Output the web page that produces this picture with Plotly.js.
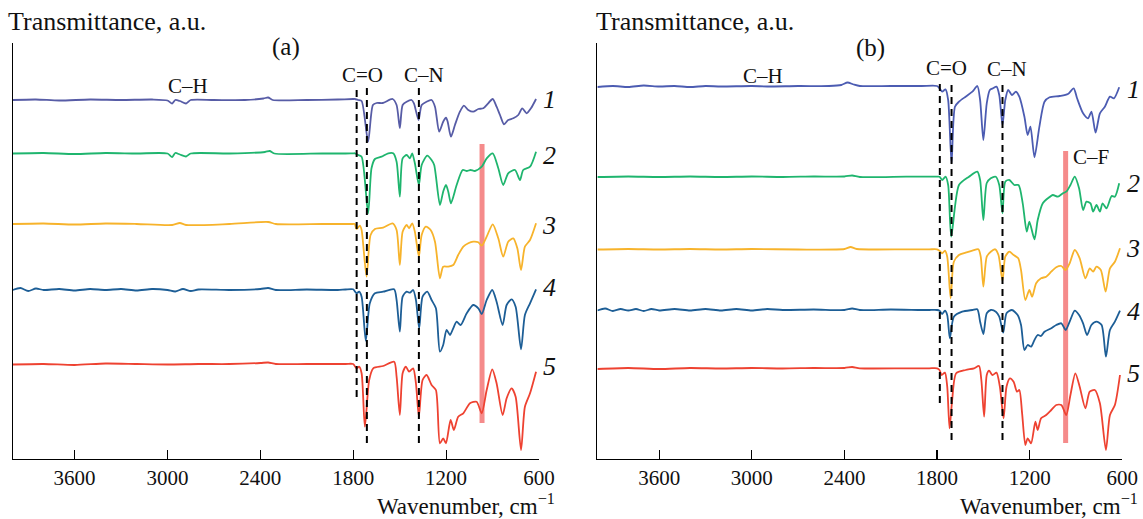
<!DOCTYPE html>
<html>
<head>
<meta charset="utf-8">
<script src="https://cdn.plot.ly/plotly-3.0.1.min.js"></script>
<style>html,body{margin:0;padding:0;background:#fff;}#chart{width:1143px;height:519px;}</style>
</head>
<body>
<div id="chart"></div>
<script>
// ---- Data: [wavenumber (cm-1), transmittance (a.u., offset)] ----
const spectrumA1 = [[4000,360],[3850,360.5],[3700,359.5],[3500,360.5],[3300,360],[3100,360.5],[3000,359.5],[2970,356.5],[2950,360],[2920,359],[2880,356.5],[2850,360],[2700,360],[2500,360],[2380,361.5],[2350,362.5],[2320,360],[2100,360],[1900,360.5],[1801,361],[1790,361],[1768,360],[1746,359],[1704,318.3],[1673,355],[1649,357],[1609,357],[1546,361],[1520,355],[1499,332],[1481,355],[1455,358.3],[1423,360],[1408,356.7],[1378,340],[1358,355],[1326,358.3],[1294,360],[1272,353.3],[1245,328.3],[1219,338.3],[1201,342.3],[1190,338.3],[1169,323.3],[1143,335],[1111,348.3],[1085,354.3],[1057,350],[1025,348.3],[992,351],[960,351.7],[928,356.7],[899,361],[874,353.3],[852,345],[826,335.7],[799,340],[766,341.7],[734,345],[708,351.7],[680,346.7],[652,351.7],[619,361]];
const spectrumA2 = [[4000,306.5],[3800,307],[3600,306],[3400,307],[3200,306.5],[3000,306.5],[2970,303],[2950,307],[2920,305.5],[2880,303.5],[2850,306.5],[2600,306.5],[2370,308],[2340,309],[2310,306.5],[2000,306.5],[1850,306.5],[1801,306.7],[1790,306.7],[1768,305],[1746,303.3],[1704,246.7],[1682,291.7],[1660,301],[1617,303.3],[1574,306.7],[1542,306.7],[1520,298.3],[1499,263.3],[1481,301.7],[1455,305],[1434,301.7],[1419,306.7],[1402,296.7],[1376,275],[1358,295],[1322,304.3],[1294,300],[1277,295],[1240,255],[1219,268.3],[1201,275],[1186,268.3],[1169,256.7],[1132,275],[1093,290],[1067,289],[1042,290],[1014,289],[970,293.3],[938,301.7],[899,306.7],[863,291.7],[831,275],[799,286.7],[755,290],[723,280],[702,290],[658,293.3],[619,308.3]];
const spectrumA3 = [[4000,236],[3800,236.5],[3600,235.5],[3400,236.5],[3200,236],[2970,235],[2920,237],[2880,235],[2600,236],[2350,238],[2300,236],[2000,236],[1850,236],[1801,236],[1790,236],[1779,231],[1757,234.3],[1746,230],[1714,183.3],[1688,225],[1660,231],[1607,232.3],[1546,236.7],[1520,230],[1499,195],[1481,228.3],[1455,235],[1439,231.7],[1419,236.7],[1402,228.3],[1376,203.3],[1358,225],[1331,233.3],[1300,230],[1272,218.3],[1240,181.7],[1219,193.3],[1186,193.3],[1154,195],[1122,205],[1089,213.3],[1057,216.7],[1025,218.3],[992,217.7],[970,214.3],[938,223.3],[899,235.7],[863,221.7],[831,203.3],[799,218.3],[766,221.7],[740,211.7],[716,190],[691,213.3],[658,220],[619,236.7]];
const spectrumA4 = [[4000,170],[3950,172],[3900,169],[3850,171.5],[3800,170],[3700,171],[3600,169.5],[3500,171],[3400,170],[3300,171],[3200,169.5],[3100,171],[3000,170],[2950,168.5],[2900,171],[2850,169],[2800,170.5],[2600,170],[2400,171],[2350,172],[2300,170],[2100,170.5],[1900,170],[1850,170.5],[1801,170.7],[1779,166.7],[1762,168.3],[1746,163.3],[1719,119.3],[1693,156.7],[1660,166.7],[1607,168.3],[1536,170.7],[1520,160],[1499,128.3],[1481,163.3],[1455,168.3],[1434,167.3],[1413,170],[1395,160],[1374,131.7],[1352,163.3],[1322,168.3],[1294,160],[1266,151.7],[1240,108.3],[1219,115],[1197,130],[1175,125],[1154,131.7],[1132,138.3],[1106,135],[1067,146.7],[1025,155],[992,151.7],[970,146],[938,160],[902,170],[874,158.3],[835,135],[809,155],[777,160.7],[751,153.3],[716,110.7],[691,145],[658,156.7],[619,170.7]];
const spectrumA5 = [[4000,95.5],[3800,96],[3600,95],[3400,96.5],[3200,96],[3000,95.5],[2800,96],[2600,96],[2400,97],[2350,97.5],[2300,96],[2100,96],[1850,96],[1801,96],[1779,91.7],[1762,93.3],[1746,86.7],[1725,33.3],[1697,80],[1671,91.7],[1607,94],[1536,98.3],[1520,83.3],[1499,45],[1481,86.7],[1460,93.3],[1439,88.3],[1413,91.7],[1395,76.7],[1376,43.3],[1352,80],[1326,85],[1294,75],[1266,70],[1240,16.7],[1219,21.7],[1201,16.7],[1171,40],[1150,30],[1122,43.3],[1089,46.7],[1046,56.7],[1003,58.3],[970,46.7],[938,70],[902,90.7],[874,76.7],[835,45],[809,61.7],[777,71.7],[751,63.3],[716,10],[691,53.3],[658,66.7],[619,88.3]];

const spectrumB1 = [[4000,373],[3900,374],[3800,373],[3700,374.5],[3600,373.5],[3500,374],[3400,373],[3300,374],[3200,373.5],[3000,374],[2900,373.5],[2700,374],[2500,374],[2420,375],[2380,377.5],[2340,375.5],[2300,374],[2100,374],[1900,374],[1800,374],[1784,371.7],[1767,368.3],[1745,370.7],[1728,360],[1706,296.7],[1684,353.3],[1658,358.3],[1615,363.3],[1571,368.3],[1539,374],[1521,360],[1500,320],[1478,356.7],[1458,370],[1437,371.7],[1415,373.3],[1397,365],[1376,335],[1358,360],[1339,370],[1315,365],[1289,368.3],[1267,363.3],[1234,343.3],[1213,325],[1195,333.3],[1169,302.7],[1137,333.3],[1104,358.3],[1071,362.7],[1006,364],[952,366],[915,371.7],[893,361.7],[854,346.7],[822,341.7],[800,348.3],[773,327.3],[745,346.7],[713,353.3],[680,363.3],[654,361.7],[620,372.7]];
const spectrumB2 = [[4000,283],[3800,283.5],[3600,283],[3400,283.5],[3200,283],[3000,283.5],[2800,283],[2600,283.5],[2400,283.5],[2350,284.5],[2300,283],[2000,283.3],[1850,283.3],[1800,283.3],[1784,283.3],[1767,280],[1745,283.3],[1728,275],[1708,223.3],[1658,275],[1593,283.3],[1539,288.3],[1521,280],[1500,240],[1478,277],[1452,281.7],[1419,283.3],[1397,275],[1376,246.7],[1358,278.3],[1332,280],[1300,275],[1272,275],[1245,256.7],[1219,228.3],[1202,238.3],[1169,220.7],[1148,240],[1115,256.7],[1082,261.7],[1050,265],[1017,263.3],[985,266.7],[963,268.3],[936,275],[908,283.3],[880,271.7],[854,250],[832,258.3],[806,256.7],[789,248.3],[767,255],[745,248.3],[728,256.7],[702,251.7],[669,264],[648,263.3],[620,276.7]];
const spectrumB3 = [[4000,210.5],[3800,211],[3600,210.5],[3400,211],[3200,210.5],[3000,211],[2700,210.5],[2400,211],[2360,213],[2320,211],[2000,210.7],[1850,210.7],[1800,210.7],[1784,209.3],[1767,206.7],[1749,209.3],[1734,203.3],[1712,161.7],[1691,198.3],[1658,205],[1615,207.3],[1571,209.3],[1532,210.7],[1517,203.3],[1500,173.3],[1478,203.3],[1452,208.3],[1423,210.7],[1402,205],[1376,179.3],[1358,203.3],[1332,208.3],[1304,205],[1274,201.7],[1256,190],[1228,160],[1202,170],[1184,163.3],[1158,176.7],[1126,181.7],[1093,183.3],[1060,188.3],[1028,192.7],[995,194],[967,190],[941,196.7],[908,210],[876,201.7],[839,181.7],[811,191.7],[789,188.3],[767,193.3],[739,190],[708,168.3],[680,191.7],[648,198.3],[615,211.7]];
const spectrumB4 = [[4000,149.5],[3950,151.5],[3900,149],[3850,151],[3800,149.5],[3750,151],[3700,149],[3650,151],[3600,149.5],[3500,151],[3400,149.5],[3300,151],[3200,149.5],[3100,151],[3000,149.5],[2900,151],[2800,150],[2600,150.5],[2400,150],[2350,151.5],[2300,150],[2100,150.5],[1900,150],[1850,150],[1800,150],[1784,149.3],[1767,146],[1749,149.3],[1734,145],[1717,121.7],[1691,143.3],[1637,148.3],[1571,150],[1539,150.7],[1521,138.3],[1500,126],[1478,146.7],[1452,150],[1419,148.3],[1397,143.3],[1371,127.3],[1350,146.7],[1315,150],[1278,145],[1256,135],[1234,110],[1213,115],[1191,113.3],[1169,120],[1148,125],[1126,124],[1104,128.3],[1060,131.7],[1028,135],[995,136.7],[967,130],[941,138.3],[908,149.3],[880,145],[854,136.7],[828,125],[800,135],[767,138.3],[734,135],[706,103.3],[680,130],[648,138.3],[615,149.3]];
const spectrumB5 = [[4000,91],[3800,92],[3600,91],[3400,92],[3200,91.5],[3000,92],[2800,91.5],[2600,92],[2400,92],[2350,93],[2300,91.7],[2000,91.7],[1850,91.7],[1800,91.7],[1784,90],[1771,85],[1749,87.3],[1734,73.3],[1719,31.7],[1702,60],[1676,86.7],[1615,90],[1560,91.7],[1528,94],[1513,80],[1495,43.3],[1478,85],[1463,89.3],[1441,85],[1415,87.3],[1393,73.3],[1369,41.7],[1350,73.3],[1328,81.7],[1304,78.3],[1282,68.3],[1267,70],[1249,46.7],[1228,15],[1213,21.7],[1191,16.7],[1163,38.3],[1148,30],[1126,41.7],[1093,45],[1060,50],[1028,55],[995,55],[963,45],[936,65],[904,86.7],[876,73.3],[839,51.7],[811,68.3],[778,70],[745,56.7],[706,10],[680,45],[648,55],[615,85]];

const seriesLabels = ['1','2','3','4','5'];
const tickValues = [3600, 3000, 2400, 1800, 1200, 600];
const bandNamesA = ['C–H', 'C=O', 'C–N'];
const bandNamesB = ['C–H', 'C=O', 'C–N', 'C–F'];
const dashedBandsA = [1778, 1712, 1376];
const dashedBandsB = [1782, 1706, 1376];
const cfBandA = 968;
const cfBandB = 967;

// ---- Styling ----
const colorsA = ['#575ca6', '#1fb56e', '#f7b32b', '#1d5e96', '#ee4231'];
const colorsB = ['#4c5cb2', '#1fb56e', '#f7b32b', '#1d5e96', '#ee4231'];
const FONT = 'Liberation Serif, Times New Roman, serif';
const W = 1143, H = 519;
const px = x => x / W;
const py = y => 1 - y / H;

function mk(spec, color, xa, ya) {
  return {
    x: spec.map(p => p[0]), y: spec.map(p => p[1]),
    xaxis: xa, yaxis: ya, type: 'scatter', mode: 'lines',
    line: {color: color, width: 1.8, shape: 'spline', smoothing: 0.7},
    hoverinfo: 'skip', showlegend: false
  };
}
const specsA = [spectrumA1, spectrumA2, spectrumA3, spectrumA4, spectrumA5];
const specsB = [spectrumB1, spectrumB2, spectrumB3, spectrumB4, spectrumB5];
const traces = [];
specsA.forEach((s, i) => traces.push(mk(s, colorsA[i], 'x', 'y')));
specsB.forEach((s, i) => traces.push(mk(s, colorsB[i], 'x2', 'y2')));

const xBase = {
  range: [4000, 600], tickvals: tickValues, ticktext: tickValues.map(String),
  ticks: 'inside', ticklen: 9, tickcolor: '#000', tickwidth: 1.2,
  showline: true, linecolor: '#000', linewidth: 1.2, showgrid: false, zeroline: false,
  tickfont: {family: FONT, size: 21, color: '#111'}, fixedrange: true
};
const yBase = {
  range: [1, 417], showticklabels: false, ticks: '', showline: true, linecolor: '#000',
  linewidth: 1.2, showgrid: false, zeroline: false, fixedrange: true
};
const yDom = [py(459), py(43)];

const shapes = [];
function vline(xref, yref, x, y0, y1, style) {
  shapes.push(Object.assign({type: 'line', xref: xref, yref: yref, x0: x, x1: x, y0: y0, y1: y1}, style));
}
const dashStyle = {line: {color: '#000', width: 2, dash: '7px,5px'}, layer: 'above'};
const cfStyle = {line: {color: 'rgba(242,110,110,0.8)', width: 5}, layer: 'below'};
vline('x', 'y', dashedBandsA[0], 63, 372, dashStyle);
vline('x', 'y', dashedBandsA[1], 17, 372, dashStyle);
vline('x', 'y', dashedBandsA[2], 17, 372, dashStyle);
vline('x', 'y', cfBandA, 37, 316, cfStyle);
vline('x2', 'y2', dashedBandsB[0], 57, 380, dashStyle);
vline('x2', 'y2', dashedBandsB[1], 20, 380, dashStyle);
vline('x2', 'y2', dashedBandsB[2], 20, 380, dashStyle);
vline('x2', 'y2', cfBandB, 17, 309, cfStyle);

const ann = [];
function txt(text, x, y, size, xanchor, extra) {
  ann.push(Object.assign({text: text, xref: 'paper', yref: 'paper', x: px(x), y: py(y),
    xanchor: xanchor || 'center', yanchor: 'middle', showarrow: false,
    font: {family: FONT, size: size, color: '#111'}}, extra || {}));
}
txt('Transmittance, a.u.', 6, 22, 26, 'left');
txt('Transmittance, a.u.', 594, 22, 26, 'left');
txt('(a)', 286, 47, 25);
txt('(b)', 870, 48, 25);
txt(bandNamesA[0], 188, 86, 21);
txt(bandNamesA[1], 362, 75, 21);
txt(bandNamesA[2], 424, 75, 21);
txt(bandNamesB[0], 763, 76, 21);
txt(bandNamesB[1], 946, 68, 21);
txt(bandNamesB[2], 1007, 69, 21);
txt(bandNamesB[3], 1071, 157, 21, 'left');
const numYA = [100, 155, 226, 288, 366];
const numYB = [89, 183, 249, 311, 373];
seriesLabels.forEach((l, i) => {
  txt('<i>' + l + '</i>', 549, numYA[i], 26);
  txt('<i>' + l + '</i>', 1133, numYB[i], 26);
});
txt('Wavenumber, cm<sup>−1</sup>', 557, 504, 23, 'right');
txt('Wavenumber, cm<sup>−1</sup>', 1140, 504, 23, 'right');

const layout = {
  width: W, height: H, margin: {l: 0, r: 0, t: 0, b: 0},
  paper_bgcolor: '#fff', plot_bgcolor: 'rgba(0,0,0,0)',
  xaxis: Object.assign({}, xBase, {domain: [px(12.7), px(539)], anchor: 'y'}),
  yaxis: Object.assign({}, yBase, {domain: yDom, anchor: 'x'}),
  xaxis2: Object.assign({}, xBase, {domain: [px(597.4), px(1122.3)], anchor: 'y2'}),
  yaxis2: Object.assign({}, yBase, {domain: yDom, anchor: 'x2'}),
  shapes: shapes, annotations: ann, showlegend: false
};
Plotly.newPlot('chart', traces, layout, {staticPlot: true, displayModeBar: false});
</script>
</body>
</html>
